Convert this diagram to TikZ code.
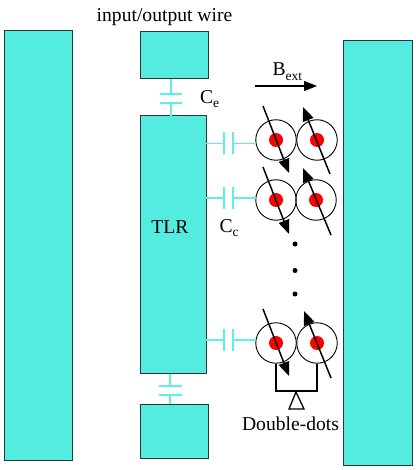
\documentclass[tikz,border=0pt]{standalone}
\usepackage{fontspec}
\setmainfont{Liberation Serif}
\usetikzlibrary{arrows.meta}
\definecolor{tl}{HTML}{54EBE0}
\definecolor{wire}{HTML}{5CF0E6}
\tikzset{
  x=1pt,y=-1pt,
  block/.style={draw=black!80,line width=1pt,fill=tl},
  wireline/.style={draw=wire,line width=1.7pt},
  dotring/.style={circle,draw=black,line width=0.9pt,minimum size=40.5pt,inner sep=0pt},
  core/.style={circle,fill=red,minimum size=14pt,inner sep=0pt},
  spin/.style={-{Triangle[length=14pt,width=11pt]},line width=1.5pt,draw=black},
  lbl/.style={font=\fontsize{19.6}{22}\selectfont,inner sep=0pt},
  sublbl/.style={font=\fontsize{13.5}{15}\selectfont,inner sep=0pt},
  vdot/.style={circle,fill=black,minimum size=5pt,inner sep=0pt}
}
\begin{document}
\begin{tikzpicture}
\useasboundingbox (0,0) rectangle (415,470);
% blocks
\path[block] (4,31) rectangle (72,460);
\path[block] (343,41) rectangle (412,465);
\node[block,minimum width=68pt,minimum height=47pt,inner sep=0pt,anchor=north west] (input) at (140,31) {};
\node[block,minimum width=66pt,minimum height=258pt,inner sep=0pt,anchor=north west] (tlr) at (140,115) {};
\node[block,minimum width=68pt,minimum height=54pt,inner sep=0pt,anchor=north west] (output) at (140,404) {};
% top capacitor
\coordinate (ct1) at (171,94); \coordinate (ct2) at (171,103);
\draw[wireline] (171,79) -- (ct1); \draw[wireline] (ct2) -- (171,116);
\draw[wireline] (160,94) -- (182,94); \draw[wireline] (160,103) -- (182,103);
% bottom capacitor
\coordinate (cb1) at (170,386); \coordinate (cb2) at (170,395);
\draw[wireline] (170,374) -- (cb1); \draw[wireline] (cb2) -- (170,404);
\draw[wireline] (159,386) -- (182,386); \draw[wireline] (159,395) -- (182,395);
% double dots
\node[dotring] (a1) at (276,140) {}; \node[dotring] (b1) at (317,140) {};
\node[dotring] (a2) at (276,200) {}; \node[dotring] (b2) at (316,200) {};
\node[dotring] (a3) at (276,343) {}; \node[dotring] (b3) at (317,343) {};
\foreach \n in {a1,b1,a2,b2,a3,b3} \node[core] at (\n) {};
% side capacitors
\foreach \y/\n in {143.5/a1,198/a2,340/a3}{
  \draw[wireline] (206,\y) -- (224,\y);
  \draw[wireline] (233,\y) -- (256,\y);
  \draw[wireline] (224,\y-11) -- (224,\y+11);
  \draw[wireline] (233,\y-11) -- (233,\y+11);
}
% spins
\draw[spin] (263,106) -- (289,173);
\draw[spin] (330,174) -- (303,107);
\draw[spin] (263,167) -- (289,234);
\draw[spin] (331,235) -- (303,168);
\draw[spin] (263,309) -- (289,376);
\draw[spin] (331,378) -- (304,311);
% B field
\coordinate (bs) at (255,86); \coordinate (be) at (317,86);
\draw[-{Triangle[length=13pt,width=10pt]},line width=1.3pt] (bs) -- (be);
% vertical dots
\node[vdot] at (295,244) {}; \node[vdot] at (295,270.5) {}; \node[vdot] at (295,294) {};
% bracket and detector
\draw[line width=1.3pt] (a3.south) -- (276,391) -- (317,391) -- (b3.south);
\draw[line width=1.3pt,line join=miter] (296,392) -- (304,409) -- (289,409) -- cycle;
% labels
\node[lbl] at (164.5,17) {input/output wire};
\node[lbl,anchor=west] at (200,97) {C}; \node[sublbl,anchor=west] at (213,104) {e};
\node[lbl] at (170,227) {TLR};
\node[lbl,anchor=west] at (219.5,226) {C}; \node[sublbl,anchor=west] at (232.5,233) {c};
\node[lbl,anchor=west] at (272.5,69) {B}; \node[sublbl,anchor=west] at (285.5,77) {ext};
\node[lbl] at (290.5,424) {Double-dots};
\end{tikzpicture}
\end{document}
